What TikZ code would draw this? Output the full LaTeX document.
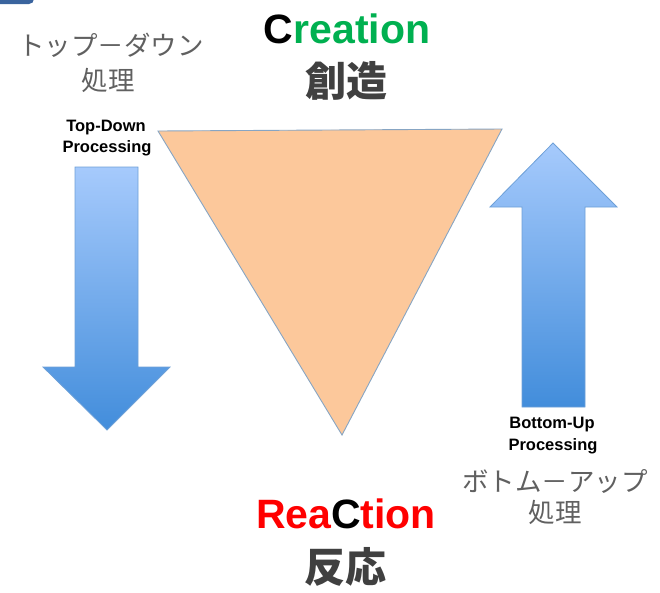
\documentclass[tikz,border=0pt]{standalone}
\usepackage{fontspec}
\setmainfont{Liberation Sans}
\newfontfamily\jpfont{Noto Sans CJK JP}
\usepackage{tikz}

\definecolor{arrowtop}{RGB}{166,202,252}
\definecolor{arrowbot}{RGB}{66,141,219}
\definecolor{arrowline}{RGB}{110,160,215}
\definecolor{peach}{RGB}{252,200,155}
\definecolor{triline}{RGB}{135,165,195}
\definecolor{creagreen}{RGB}{0,176,80}
\definecolor{jpdark}{RGB}{64,64,64}
\definecolor{jpgray}{RGB}{96,96,96}
\definecolor{cornerblue}{RGB}{58,100,158}

\begin{document}
\begin{tikzpicture}[x=1pt,y=-1pt,
  bigarrow/.style={draw=arrowline, line width=0.8pt, line join=miter, top color=arrowtop, bottom color=arrowbot},
  engtag/.style={anchor=base, inner sep=0pt, font=\fontsize{16.5}{18}\selectfont\bfseries},
  bigword/.style={anchor=base, inner sep=0pt, font=\fontsize{41}{44}\selectfont\bfseries},
  jpbig/.style={inner sep=0pt, text=jpdark, font=\fontsize{41}{44}\jpfont\bfseries},
  jplabel/.style={inner sep=0pt, text=jpgray, font=\fontsize{26.5}{30}\jpfont}]
\useasboundingbox (0,0) rectangle (660,592);

% corner piece
\fill[cornerblue, rounded corners=5pt] (-20,-20) rectangle (34,4);

% triangle
\draw[fill=peach, draw=triline, line width=0.9pt, line join=miter] (158,131) -- (502,129) -- (342,435) -- cycle;

% arrows
\draw[bigarrow] (75,167) -- (138,167) -- (138,367) -- (170,367) -- (107,430) -- (43,367) -- (75,367) -- cycle;
\draw[bigarrow] (522,407) -- (585,407) -- (585,207) -- (617,207) -- (553,143) -- (490,207) -- (522,207) -- cycle;

% top
\node[bigword] (creation) at (347,43) {\textcolor{black}{C}\textcolor{creagreen}{reation}};
\node[jpbig] (souzou) at (346,81) {創造};

% bottom
\node[bigword] (reaction) at (346,528) {\textcolor{red}{Rea}\textcolor{black}{C}\textcolor{red}{tion}};
\node[jpbig] (hannou) at (345,567) {反応};

% left labels
\node[jplabel] (topdownjp) at (111,45) {トップ－ダウン};
\node[jplabel] (shorileft) at (108,80) {処理};
\node[engtag] (topdown) at (106,131) {Top-Down};
\node[engtag] (procleft) at (107,152) {Processing};

% right labels
\node[engtag] (bottomup) at (552,428) {Bottom-Up};
\node[engtag] (procright) at (553,450) {Processing};
\node[jplabel] (bottomupjp) at (555,481) {ボトム－アップ};
\node[jplabel] (shoriright) at (555,512) {処理};
\end{tikzpicture}
\end{document}
